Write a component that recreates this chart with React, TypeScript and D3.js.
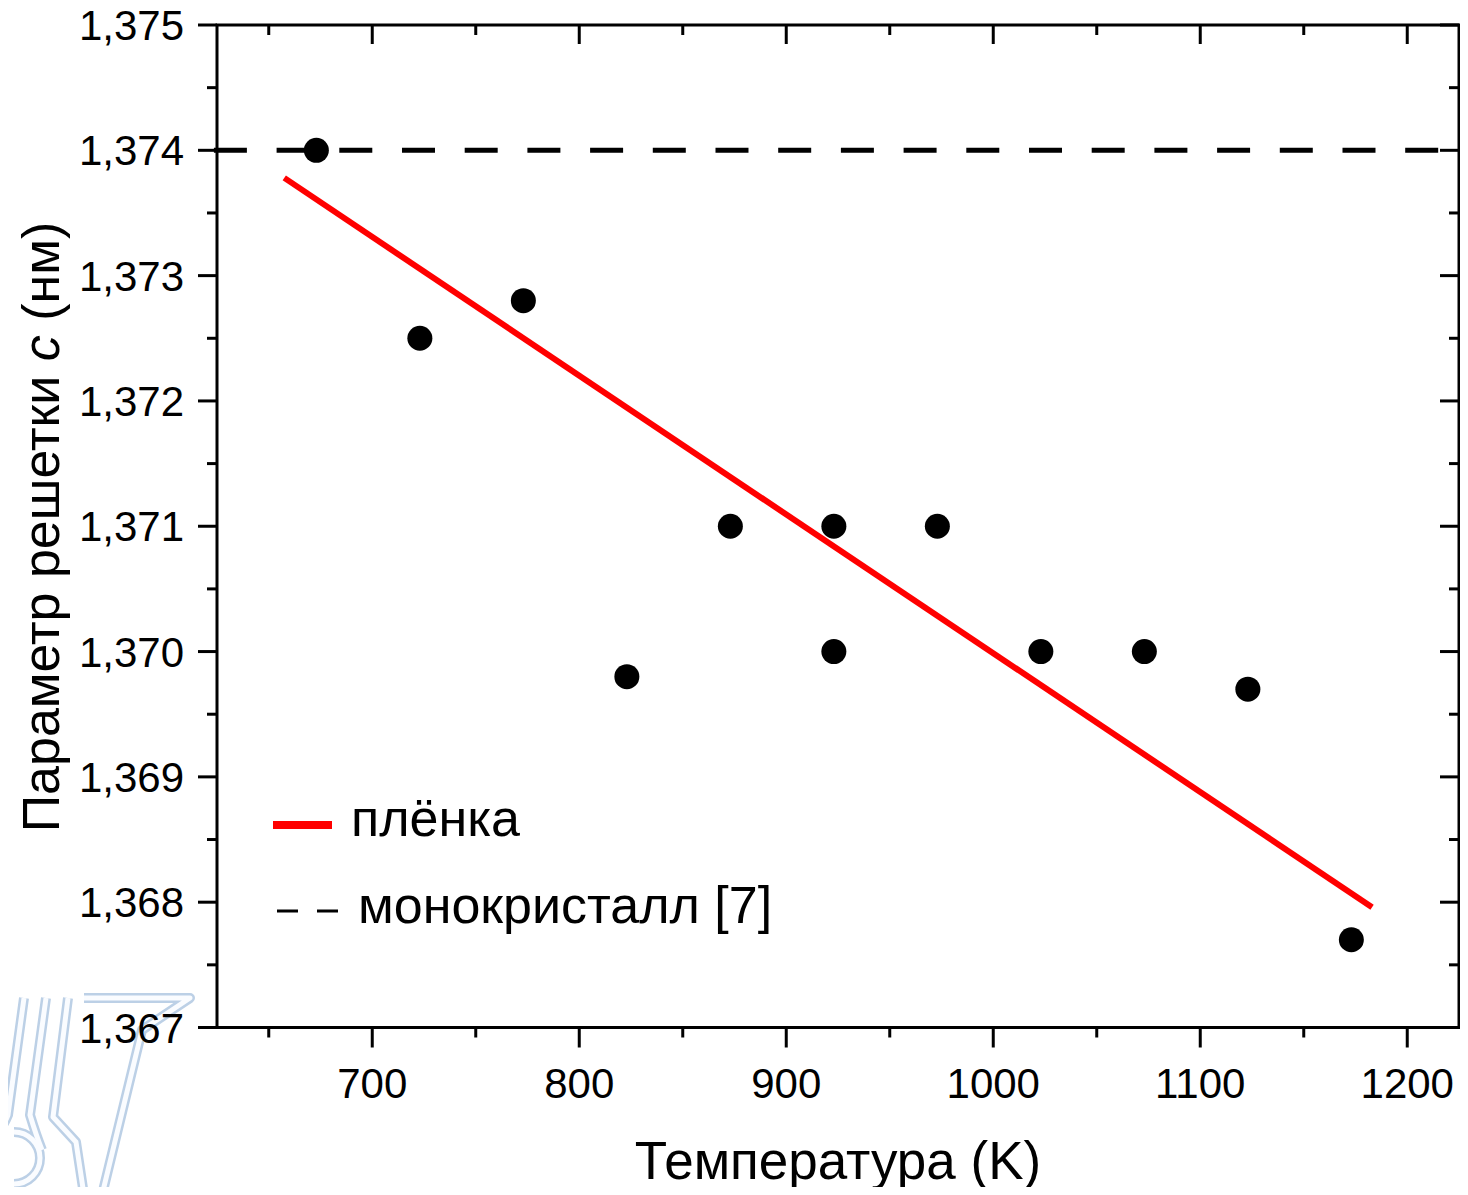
import React, { useRef, useEffect } from 'react';
import * as d3 from 'd3';

// измерения: температура (K) и параметр решетки c (нм)
const temps = [673, 723, 773, 823, 873, 923, 923, 973, 1023, 1073, 1123, 1173];
const latticeC = [1.374, 1.3725, 1.3728, 1.3698, 1.371, 1.371, 1.370, 1.371, 1.370, 1.370, 1.3697, 1.3677];

// линия тренда (плёнка)
const fitX = [657.5, 1183];
const fitY = [1.37378, 1.36796];

// монокристалл [7]
const crystalX = [623.5, 1215];
const crystalC = 1.374;

const xTicks = [700, 800, 900, 1000, 1100, 1200];
const yTicks = [1.367, 1.368, 1.369, 1.37, 1.371, 1.372, 1.373, 1.374, 1.375];

const legendLabels = ['плёнка', 'монокристалл [7]'];

const W = 1452;
const H = 1179;
const FONT = '"Liberation Sans", Arial, sans-serif';

const Chart = () => {
    const svgRef = useRef<SVGSVGElement>(null);

    useEffect(() => {
        const svg = d3.select(svgRef.current);
        svg.selectAll('*').remove();

        // page has 8px margin, so shift everything by -8
        const g = svg.append('g').attr('transform', 'translate(-8,-8)');

        const x = d3.scaleLinear().domain([625, 1225]).range([217, 1459]);
        const y = d3.scaleLinear().domain([1.367, 1.375]).range([1027.5, 25]);

        // watermark logo (faint, hollow strokes)
        const wmPaths = [
            'M3,1000 L1,1110',
            'M24,998 L8,1115 Q4,1125 0,1128',
            'M46,998 L30,1115 Q36,1135 42,1150',
            'M68,998 L53,1117 L76,1142 L84,1195',
            'M84,998 L190,998 L142,1030 L102,1195',
            'M14,1132 A26,26 0 1 1 14,1184',
        ];
        const wm = g.append('g').attr('fill', 'none').attr('stroke-linejoin', 'round');
        wmPaths.forEach(d => {
            wm.append('path').attr('d', d).attr('stroke', '#bcd0e6').attr('stroke-width', 10);
        });
        wmPaths.forEach(d => {
            wm.append('path').attr('d', d).attr('stroke', '#fafcff').attr('stroke-width', 5);
        });

        // dashed line (monocrystal)
        g.append('line')
            .attr('x1', x(crystalX[0])).attr('x2', x(crystalX[1]))
            .attr('y1', y(crystalC)).attr('y2', y(crystalC))
            .attr('stroke', '#000').attr('stroke-width', 5)
            .attr('stroke-dasharray', '33,29.7');

        // fit line
        const line = d3.line<number>().x((d, i) => x(fitX[i])).y(d => y(d));
        g.append('path')
            .attr('d', line(fitY))
            .attr('fill', 'none')
            .attr('stroke', '#ff0000')
            .attr('stroke-width', 6);

        // points
        g.selectAll('.pt')
            .data(temps)
            .enter()
            .append('circle')
            .attr('cx', d => x(d))
            .attr('cy', (d, i) => y(latticeC[i]))
            .attr('r', 12.5)
            .attr('fill', '#000');

        // frame
        const frame = g.append('g').attr('stroke', '#000').attr('stroke-width', 3).attr('fill', 'none');
        frame.append('rect')
            .attr('x', 217).attr('y', 25)
            .attr('width', 1459 - 217).attr('height', 1027.5 - 25);

        const xMinor = d3.range(650, 1225, 50).filter(v => v % 100 !== 0);
        const yMinor = d3.range(1.3675, 1.375, 0.001);

        // bottom ticks (out) and top ticks (in)
        xTicks.forEach(v => {
            frame.append('line').attr('x1', x(v)).attr('x2', x(v)).attr('y1', y.range()[0]).attr('y2', y.range()[0] + 20);
            frame.append('line').attr('x1', x(v)).attr('x2', x(v)).attr('y1', 25).attr('y2', 44);
        });
        xMinor.forEach(v => {
            frame.append('line').attr('x1', x(v)).attr('x2', x(v)).attr('y1', y.range()[0]).attr('y2', y.range()[0] + 10);
            frame.append('line').attr('x1', x(v)).attr('x2', x(v)).attr('y1', 25).attr('y2', 35);
        });
        // left ticks (out) and right ticks (in)
        yTicks.forEach(v => {
            frame.append('line').attr('x1', 198).attr('x2', 217).attr('y1', y(v)).attr('y2', y(v));
            frame.append('line').attr('x1', 1440).attr('x2', 1459).attr('y1', y(v)).attr('y2', y(v));
        });
        yMinor.forEach(v => {
            frame.append('line').attr('x1', 207).attr('x2', 217).attr('y1', y(v)).attr('y2', y(v));
            frame.append('line').attr('x1', 1449).attr('x2', 1459).attr('y1', y(v)).attr('y2', y(v));
        });

        // tick labels
        const fmt = (v: number) => v.toFixed(3).replace('.', ',');
        g.selectAll('.yl')
            .data(yTicks)
            .enter()
            .append('text')
            .attr('x', 184)
            .attr('y', d => y(d) + 15)
            .attr('text-anchor', 'end')
            .attr('font-family', FONT)
            .attr('font-size', 42)
            .text(d => fmt(d));

        g.selectAll('.xl')
            .data(xTicks)
            .enter()
            .append('text')
            .attr('x', d => x(d))
            .attr('y', 1098)
            .attr('text-anchor', 'middle')
            .attr('font-family', FONT)
            .attr('font-size', 42)
            .text(d => d);

        // axis titles
        g.append('text')
            .attr('x', 838)
            .attr('y', 1179)
            .attr('text-anchor', 'middle')
            .attr('font-family', FONT)
            .attr('font-size', 53)
            .text('Температура (K)');

        const yt = g.append('text')
            .attr('transform', 'translate(59,527) rotate(-90)')
            .attr('text-anchor', 'middle')
            .attr('font-family', FONT)
            .attr('font-size', 52);
        yt.append('tspan').text('Параметр решетки ');
        yt.append('tspan').attr('font-style', 'italic').text('c');
        yt.append('tspan').text(' (нм)');

        // legend
        g.append('line')
            .attr('x1', 273).attr('x2', 332).attr('y1', 825).attr('y2', 825)
            .attr('stroke', '#ff0000').attr('stroke-width', 8);
        g.append('line')
            .attr('x1', 277).attr('x2', 338).attr('y1', 911).attr('y2', 911)
            .attr('stroke', '#000').attr('stroke-width', 3)
            .attr('stroke-dasharray', '21,19');

        g.selectAll('.lg')
            .data(legendLabels)
            .enter()
            .append('text')
            .attr('x', (d, i) => (i === 0 ? 351 : 358))
            .attr('y', (d, i) => (i === 0 ? 836 : 923))
            .attr('font-family', FONT)
            .attr('font-size', 52)
            .text(d => d);
    }, []);

    return <svg ref={svgRef} width={W} height={H} style={{ display: 'block', overflow: 'visible' }}></svg>;
};

export default function App() {
    return <Chart />;
}
